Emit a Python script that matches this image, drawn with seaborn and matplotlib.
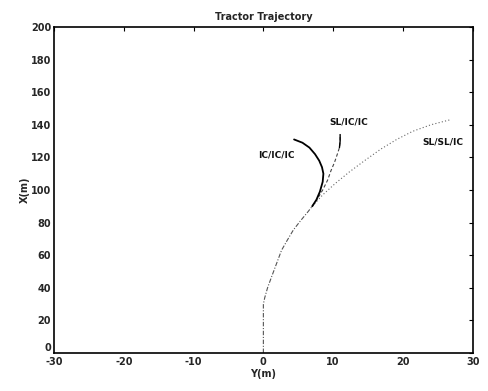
import numpy as np
import pandas as pd
import matplotlib
matplotlib.use("Agg")
import matplotlib.pyplot as plt
import seaborn as sns

# Shared approach path (Y lateral, X longitudinal), metres
approach_y = [0.0, 0.0, 0.0, 0.0, 0.2, 0.6, 1.2, 1.9, 2.6, 3.4, 4.3, 5.3, 6.4, 7.0]
approach_x = [0.0, 10.0, 20.0, 30.0, 34.0, 40.0, 47.0, 55.0, 63.0, 69.0, 75.5, 81.0, 86.7, 90.0]

# IC/IC/IC branch
icicic_y = [7.0, 7.6, 8.1, 8.5, 8.6, 8.4, 8.0, 7.4, 6.6, 5.6, 4.4]
icicic_x = [90.0, 94.0, 99.0, 105.0, 110.0, 114.0, 118.0, 122.0, 126.0, 129.0, 131.0]

# SL/IC/IC branch
slicic_y = [7.0, 7.8, 8.5, 9.2, 9.7, 10.2, 10.6, 10.9, 11.0, 11.0]
slicic_x = [90.0, 95.0, 100.0, 106.0, 112.0, 117.0, 122.0, 126.0, 130.0, 134.0]

# SL/SL/IC branch
slslic_y = [7.0, 8.5, 10.3, 12.3, 14.5, 16.8, 19.1, 21.4, 24.0, 26.7]
slslic_x = [90.0, 97.0, 104.0, 111.0, 118.0, 125.0, 131.0, 136.0, 140.0, 143.0]

labels = ["IC/IC/IC", "SL/IC/IC", "SL/SL/IC"]
label_pos_y = [1.8, 12.3, 25.7]
label_pos_x = [121.5, 141.7, 129.4]

x_ticks = [-30, -20, -10, 0, 10, 20, 30]
y_ticks = [0, 20, 40, 60, 80, 100, 120, 140, 160, 180, 200]

sns.set_theme(style="white")
plt.rcParams["font.family"] = ["DejaVu Sans"]
plt.rcParams["axes.unicode_minus"] = False
plt.rcParams["xtick.direction"] = "in"
plt.rcParams["ytick.direction"] = "in"

fig = plt.figure(figsize=(4.88, 3.91), dpi=100)
ax = fig.add_axes([0.1107, 0.0972, 0.858, 0.8338])

def draw(ys, xs, **kw):
    df = pd.DataFrame({"Y": ys, "X": xs})
    sns.lineplot(data=df, x="Y", y="X", sort=False, estimator=None, ax=ax, **kw)

draw(approach_y, approach_x, color="#555555", lw=0.8, linestyle=(0, (4, 1.5, 1, 1.5)))
draw(slslic_y, slslic_x, color="#666666", lw=0.8, linestyle=(0, (1, 2)))
draw(slicic_y, slicic_x, color="#444444", lw=0.8, linestyle=(0, (3, 2)))
# solid final segment of SL/IC/IC
draw(slicic_y[-3:], slicic_x[-3:], color="black", lw=1.0)
draw(icicic_y, icicic_x, color="black", lw=1.3)

for t, yy, xx in zip(labels, label_pos_y, label_pos_x):
    ax.text(yy, xx, t, fontsize=6.5, ha="center", va="center", fontweight="bold",
            color="#111111")

ax.set_xlim(-30, 30)
ax.set_ylim(0, 200)
ax.set_xticks(x_ticks)
ax.set_yticks(y_ticks)
ax.tick_params(axis="both", labelsize=7, length=3, width=0.8, color="black",
               top=True, right=True)
ax.tick_params(axis="x", pad=3)
ax.tick_params(axis="y", pad=2)
for lbl in ax.get_xticklabels() + ax.get_yticklabels():
    lbl.set_fontweight("bold")
# lift the y-axis "0" so it clears the "-30" below the corner
ax.get_yticklabels()[0].set_verticalalignment("bottom")
ax.set_xlabel("Y(m)", fontsize=7, fontweight="bold", labelpad=1)
ax.set_ylabel("X(m)", fontsize=7, fontweight="bold", labelpad=1)
ax.set_title("Tractor Trajectory", fontsize=7, fontweight="bold", pad=5)
for s in ax.spines.values():
    s.set_color("black")
    s.set_linewidth(1.2)

fig.savefig("out.png", dpi=100)
